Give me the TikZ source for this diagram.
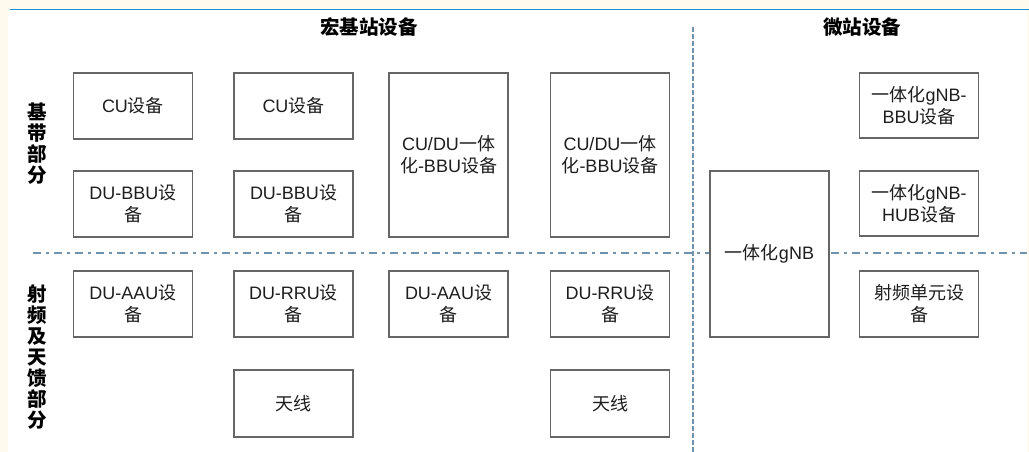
\documentclass[tikz,border=0pt]{standalone}
\usepackage{fontspec}
\setmainfont{Liberation Sans}
\newfontfamily\cjk{Noto Sans CJK SC}
\newcommand{\zh}[1]{{\cjk #1}}
\definecolor{cream}{HTML}{FFF9EE}
\definecolor{topblue}{HTML}{1E8FD6}
\definecolor{boxgray}{HTML}{666666}
\definecolor{sepblue}{HTML}{6F93AE}
\definecolor{txt}{HTML}{1E1E1E}
\tikzset{
  devbox/.style={draw=boxgray, line width=1.4pt, fill=white, align=center, inner sep=0pt,
    text=txt, font=\fontsize{18}{22}\selectfont, minimum width=119pt, minimum height=66pt},
  tallbox/.style={devbox, minimum height=164pt},
  title/.style={font=\cjk\bfseries\fontsize{19.5}{21}\selectfont, text=black, inner sep=0pt},
  sidelabel/.style={font=\cjk\bfseries\fontsize{19.5}{21}\selectfont, text=black, align=center, inner sep=0pt},
  hsep/.style={draw=sepblue, line width=2pt, dash pattern=on 8pt off 5pt on 2.5pt off 5.5pt},
  vsep/.style={draw=sepblue, line width=2pt, dash pattern=on 5pt off 2pt}
}
\begin{document}
\begin{tikzpicture}[x=1pt,y=-1pt]
\fill[cream] (0,0) rectangle (1029,452);
\fill[white] (8,10) rectangle (1027,452);
\useasboundingbox (0,0) rectangle (1029,452);
\draw[topblue, line width=1.6pt] (10,9.5) -- (1029,9.5);
% separators
\coordinate (hl) at (33,253);
\coordinate (hr) at (1027,253);
\coordinate (vt) at (693,27);
\coordinate (vb) at (693,452);
\draw[hsep] (hl) -- (hr);
% titles
\node[title] (t1) at (369,27) {宏基站设备};
\node[title] (t2) at (862,27) {微站设备};
\node[sidelabel] (s1) at (37,144) {基\\带\\部\\分};
\node[sidelabel] (s2) at (37,357) {射\\频\\及\\天\\馈\\部\\分};
% macro boxes
\node[devbox] (cu1) at (133,106) {CU\zh{设备}};
\node[devbox] (cu2) at (293.5,106) {CU\zh{设备}};
\node[devbox] (dub1) at (133,204) {DU-BBU\zh{设}\\\zh{备}};
\node[devbox] (dub2) at (293.5,204) {DU-BBU\zh{设}\\\zh{备}};
\node[tallbox] (cudu1) at (448.5,155) {CU/DU\zh{一体}\\\zh{化}-BBU\zh{设备}};
\node[tallbox] (cudu2) at (610,155) {CU/DU\zh{一体}\\\zh{化}-BBU\zh{设备}};
\node[devbox] (aau1) at (133,304) {DU-AAU\zh{设}\\\zh{备}};
\node[devbox] (rru1) at (293.5,304) {DU-RRU\zh{设}\\\zh{备}};
\node[devbox] (aau2) at (448.5,304) {DU-AAU\zh{设}\\\zh{备}};
\node[devbox] (rru2) at (610,304) {DU-RRU\zh{设}\\\zh{备}};
\node[devbox, minimum height=67pt] (ant1) at (293.5,403.5) {\zh{天线}};
\node[devbox, minimum height=67pt] (ant2) at (610,403.5) {\zh{天线}};
% micro boxes
\node[devbox, minimum height=65pt] (gbbu) at (919,105.5) {\zh{一体化}gNB-\\BBU\zh{设备}};
\node[devbox, minimum height=65pt] (ghub) at (919,203.5) {\zh{一体化}gNB-\\HUB\zh{设备}};
\node[tallbox, minimum height=166pt] (gnb) at (769.5,254) {\zh{一体化}gNB};
\node[devbox] (rf) at (919,304) {\zh{射频单元设}\\\zh{备}};
\draw[vsep] (vt) -- (vb);
\end{tikzpicture}
\end{document}
